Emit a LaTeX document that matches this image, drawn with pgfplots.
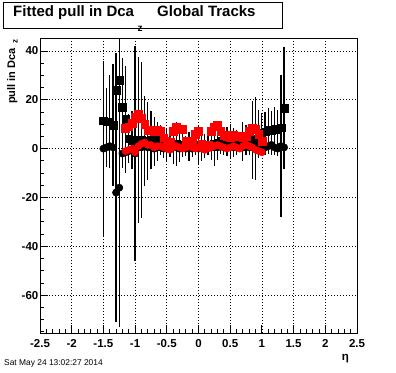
\documentclass[border=0pt]{standalone}
\usepackage{pgfplots}
\usepackage{pgfplotstable}
\pgfplotsset{compat=1.18}
\usepackage{fontspec}
\setmainfont{Liberation Sans}

\pgfplotstableread{
x y e
-1.50 11.5 10
-1.45 11 14
-1.40 11 19
-1.35 9.5 25
-1.30 24 15
-1.25 28 20
-1.20 17 20
-1.15 12 22
-1.10 4 10
-1.05 3.5 12
-1.00 3 8
-0.95 3.5 34
-0.90 3.5 32
-0.85 3 18.5
-0.80 3 16
-0.75 3.5 12
-0.70 3 10
-0.65 3 8
-0.60 3.5 6
-0.55 2 6
-0.50 1.5 7
-0.45 1.5 5
-0.40 1.5 8
-0.35 2 9
-0.30 1.5 7
-0.25 1.5 5
-0.20 1 4
-0.15 1 6
-0.10 1.5 5
-0.05 1.5 4
0.00 1.5 8
0.05 1 6
0.10 1 5
0.15 1.5 4
0.20 1.5 6
0.25 2 9
0.30 2.5 7
0.35 3 5
0.40 2.5 5
0.45 3 6
0.50 3 7
0.55 2.5 6
0.60 2.5 5
0.65 3 4
0.70 3 8
0.75 3.5 6
0.80 3.5 6
0.85 3.5 16
0.90 4 17
0.95 6 10
1.00 6.5 8
1.05 7 8
1.10 7.5 9
1.15 7.5 8
1.20 8 9
1.25 8 8
1.30 8.5 10
1.35 16.5 25
}\blacksq

\pgfplotstableread{
x y e
-1.50 0 36
-1.45 0.5 8
-1.40 1 6
-1.35 0.5 8
-1.30 -18 53
-1.25 -16 57
-1.20 -2 6
-1.15 -1.5 5
-1.10 -1 4
-1.05 -0.5 5
-1.00 -2 44
-0.95 0.5 4
-0.90 0.5 3
-0.85 1 3
-0.80 0.5 4
-0.75 0.5 3
-0.70 0 3
-0.65 0.5 2
-0.60 0.5 3
-0.55 0 2
-0.50 0.5 3
-0.45 0 2
-0.40 0.5 3
-0.35 0.5 2
-0.30 0 2
-0.25 0.5 2
-0.20 0 2
-0.15 0.5 2
-0.10 0 2
-0.05 0.5 2
0.00 0 3
0.05 0.5 2
0.10 0 2
0.15 0.5 2
0.20 0.5 2
0.25 0.5 3
0.30 0.5 2
0.35 1 2
0.40 0.5 2
0.45 0.5 2
0.50 1 3
0.55 0.5 2
0.60 0.5 2
0.65 1 2
0.70 0.5 3
0.75 1 2
0.80 0.5 3
0.85 0.5 3
0.90 1 3
0.95 0.5 3
1.00 0.5 3
1.05 0.5 3
1.10 1 3
1.15 1.5 4
1.20 0.5 3
1.25 0 3
1.30 1 29
1.35 0.5 4
}\blackci

\pgfplotstableread{
x y
-1.15 8.5
-1.10 9
-1.05 10.5
-1.00 13
-0.95 14
-0.90 12.5
-0.85 10
-0.80 7.5
-0.75 7.5
-0.70 7
-0.65 7.5
-0.60 7
-0.55 4.5
-0.50 3
-0.45 2.5
-0.40 7
-0.35 9
-0.30 8
-0.25 8
-0.20 3
-0.15 2.5
-0.10 3
-0.05 6
0.00 7
0.05 2
0.10 1.5
0.15 1.5
0.20 7
0.25 9
0.30 9.5
0.35 7
0.40 5.5
0.45 5
0.50 4.5
0.55 5.5
0.60 5
0.65 5
0.70 4.5
0.75 5
0.80 7
0.85 8.5
0.90 8
0.95 6
1.00 3
}\redsq

\pgfplotstableread{
x y
-1.15 -1
-1.10 -0.5
-1.05 0
-1.00 -1.5
-0.95 1
-0.90 2
-0.85 2.5
-0.80 1.5
-0.75 1.5
-0.70 0.5
-0.65 1
-0.60 1
-0.55 0.5
-0.50 0
-0.45 -0.5
-0.40 0.5
-0.35 1
-0.30 0.5
-0.25 0
-0.20 0.5
-0.15 1
-0.10 0.5
-0.05 0
0.00 0.5
0.05 0
0.10 -0.5
0.15 0
0.20 0.5
0.25 1
0.30 1.5
0.35 1
0.40 0.5
0.45 0
0.50 0.5
0.55 1
0.60 0.5
0.65 0
0.70 1
0.75 1.5
0.80 1
0.85 0.5
0.90 -0.5
0.95 -1
1.00 -1.5
}\redci

\begin{document}
\begin{tikzpicture}[x=1pt,y=1pt]
\begin{axis}[
  at={(40pt,39pt)}, anchor=south west,
  scale only axis, width=317pt, height=295pt,
  xmin=-2.5, xmax=2.5, ymin=-75.5, ymax=45.3,
  axis line style={line width=0.9pt},
  xtick={-2.5,-2,-1.5,-1,-0.5,0,0.5,1,1.5,2,2.5},
  xticklabels={-2.5,-2,-1.5,-1,-0.5,0,0.5,1,1.5,2,2.5},
  minor xtick={-2.4,-2.3,-2.2,-2.1,-1.9,-1.8,-1.7,-1.6,-1.4,-1.3,-1.2,-1.1,-0.9,-0.8,-0.7,-0.6,-0.4,-0.3,-0.2,-0.1,0.1,0.2,0.3,0.4,0.6,0.7,0.8,0.9,1.1,1.2,1.3,1.4,1.6,1.7,1.8,1.9,2.1,2.2,2.3,2.4},
  ytick={-60,-40,-20,0,20,40},
  yticklabels={-60,-40,-20,0,20,40},
  minor ytick={-75,-70,-65,-55,-50,-45,-35,-30,-25,-15,-10,-5,5,10,15,25,30,35,45},
  xtick pos=bottom, ytick pos=left,
  tick align=inside,
  major tick length=8pt, minor tick length=4pt,
  every tick/.style={black, line width=0.8pt},
  grid=major,
  major grid style={black, line width=0.7pt, dash pattern=on 0.8pt off 2.2pt},
  ticklabel style={font=\fontsize{11.5}{12}\selectfont\bfseries},
  xticklabel style={inner sep=0pt, yshift=-6pt},
  yticklabel style={inner sep=0pt, xshift=-1.5pt},
  clip=true,
]
\addplot[only marks, mark=square*, mark size=3.8pt, black,
  error bars/.cd, y dir=both, y explicit, error mark=none,
  error bar style={line width=1.2pt, black}]
  table[x=x, y=y, y error=e] {\blacksq};
\addplot[only marks, mark=*, mark size=3.7pt, black,
  error bars/.cd, y dir=both, y explicit, error mark=none,
  error bar style={line width=1.2pt, black}]
  table[x=x, y=y, y error=e] {\blackci};
\addplot[only marks, mark=square*, mark size=3.9pt, red, mark options={fill=red, draw=red}]
  table[x=x, y=y] {\redsq};
\addplot[only marks, mark=*, mark size=3.6pt, red, mark options={fill=red, draw=red}]
  table[x=x, y=y] {\redci};
\end{axis}
% title box
\draw[line width=1pt, fill=white] (3.5pt,343pt) rectangle (282.5pt,369.5pt);
\node[anchor=base west, inner sep=0pt, font=\fontsize{15}{15}\selectfont\bfseries] at (13pt,355pt) {Fitted pull in Dca};
\node[anchor=base west, inner sep=0pt, font=\fontsize{10}{10}\selectfont\bfseries] at (137.5pt,340pt) {z};
\node[anchor=base west, inner sep=0pt, font=\fontsize{15}{15}\selectfont\bfseries] at (157pt,355pt) {Global Tracks};
% y label
\node[rotate=90, anchor=base east, inner sep=0pt, font=\fontsize{11}{11}\selectfont\bfseries] at (15pt,333pt) {pull in Dca\hspace{5pt}\raisebox{-2.5pt}{\fontsize{8}{8}\selectfont z}};
% x label
\node[anchor=base east, inner sep=0pt, font=\fontsize{11.5}{11}\selectfont\bfseries] at (349pt,12pt) {η};
% date
\node[anchor=base west, inner sep=0pt, font=\fontsize{8.4}{9}\selectfont] at (4pt,6pt) {Sat May 24 13:02:27 2014};
\pgfresetboundingbox
\path[use as bounding box] (0,0) rectangle (396pt,372pt);
\end{tikzpicture}
\end{document}
